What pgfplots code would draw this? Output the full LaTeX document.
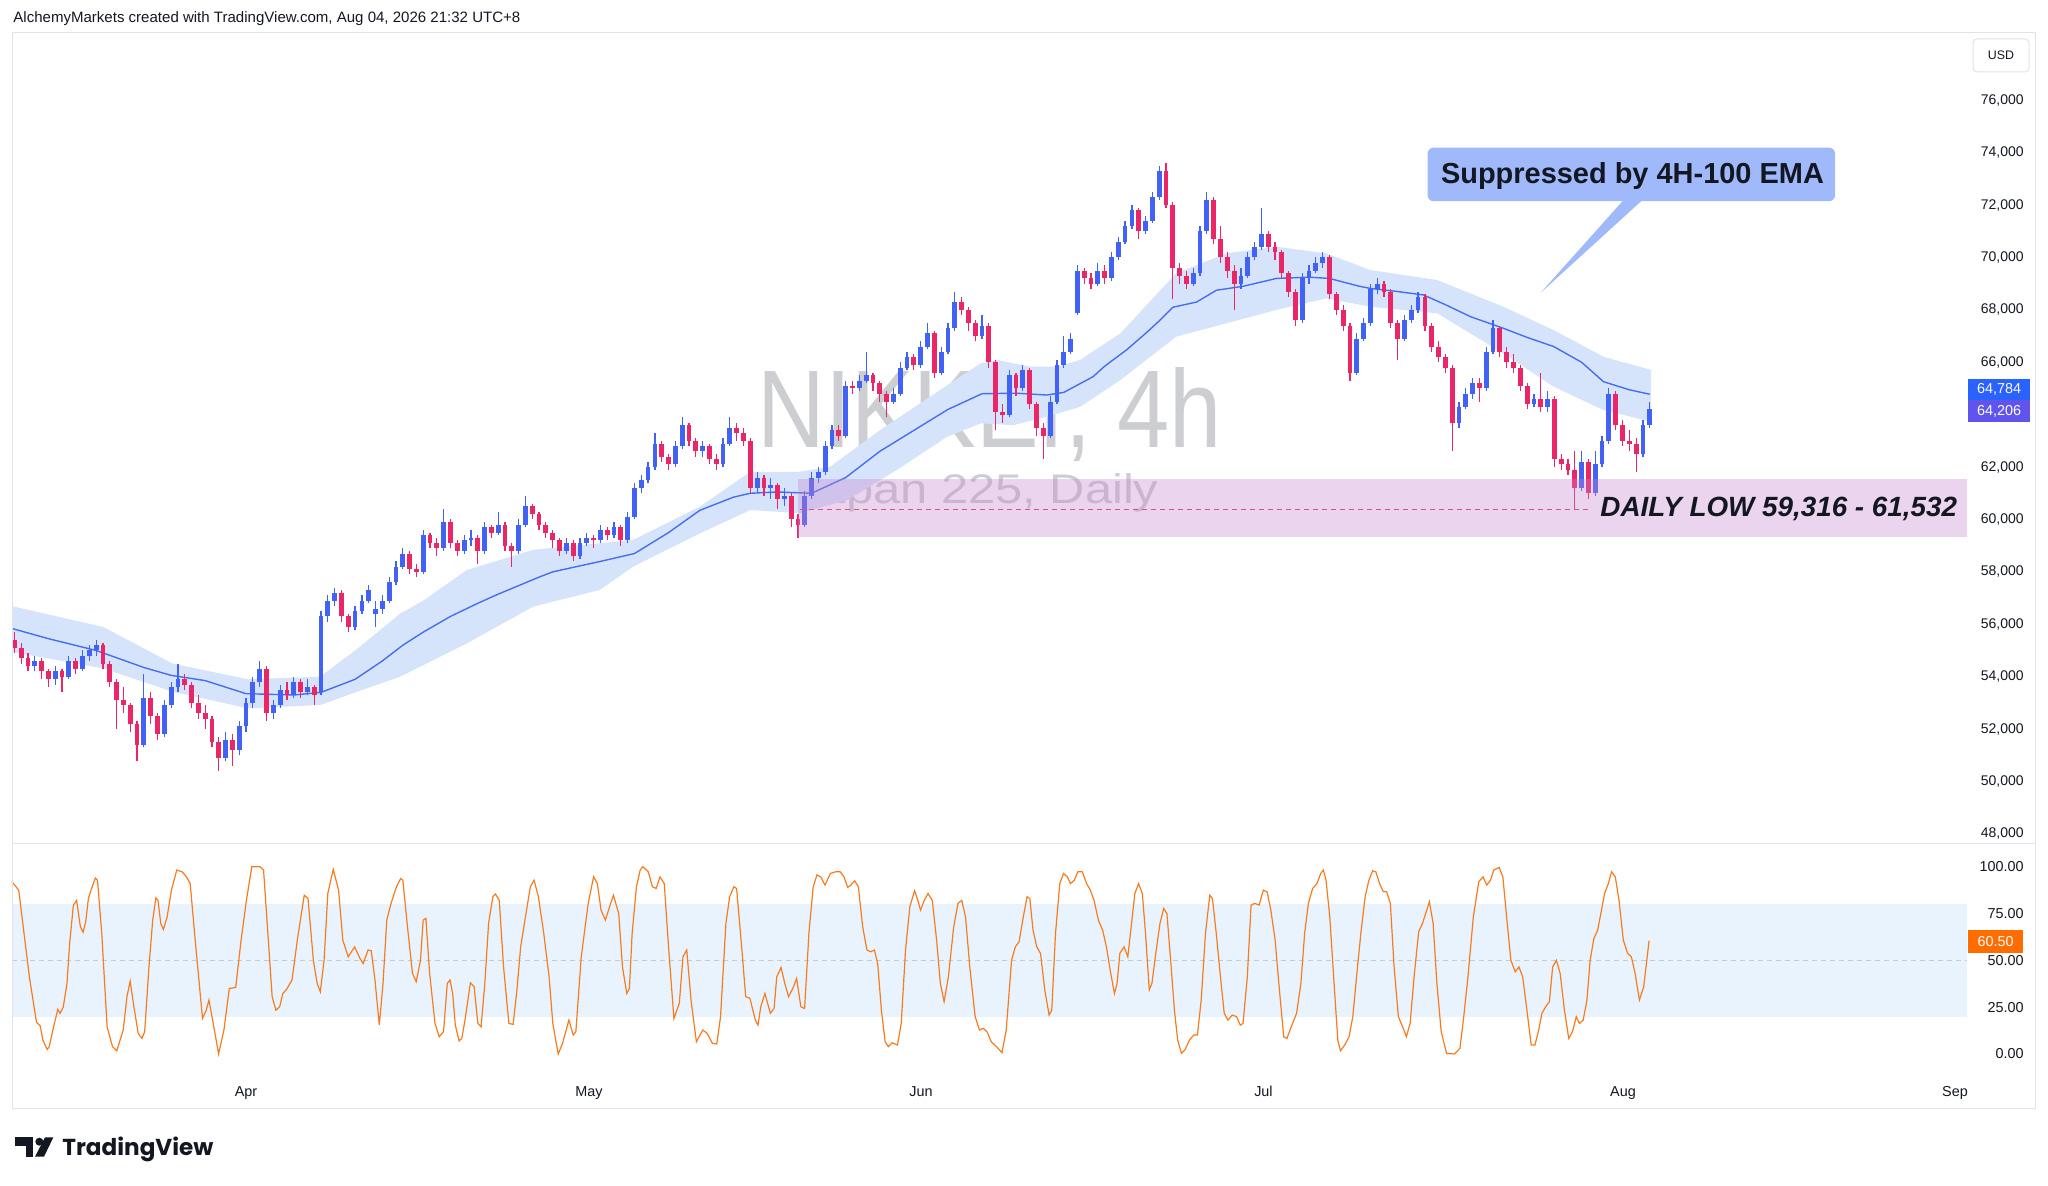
\documentclass[border=0pt]{standalone}
\usepackage{fontspec}
\setmainfont{Liberation Sans}
\newfontfamily\popfont{Poppins}
\usepackage{graphicx}
\usepackage{pgfplots}
\pgfplotsset{compat=1.18}
\usepackage{pgfplotstable}

\definecolor{upc}{RGB}{66,98,245}
\definecolor{dnc}{RGB}{234,38,102}
\definecolor{emac}{RGB}{70,110,240}
\definecolor{bandc}{RGB}{214,228,251}
\definecolor{zonec}{RGB}{198,132,206}
\definecolor{zlinec}{RGB}{222,80,130}
\definecolor{oscc}{RGB}{247,124,32}
\definecolor{oscband}{RGB}{232,243,253}
\definecolor{gridc}{RGB}{200,202,208}
\definecolor{framec}{RGB}{224,227,235}
\definecolor{labelc}{RGB}{19,23,34}
\definecolor{wmc}{RGB}{205,206,210}
\definecolor{callc}{RGB}{160,185,250}
\definecolor{emabox}{RGB}{41,98,255}
\definecolor{pricebox}{RGB}{96,84,236}
\definecolor{oscbox}{RGB}{255,109,0}

\pgfplotsset{candle/.style={only marks, mark=*, mark size=0pt, mark options={draw=none, fill=none}, forget plot,
  error bars/.cd, y dir=plus, y explicit, error mark=none, error bar style={line width=#1}}}

% 4h candles, prices in thousands: rising candles
\pgfplotstableread{
x o h l c
3 54.4 54.8 54.2 54.6
6 53.9 54.4 53.7 54.2
8 54.0 54.8 53.9 54.6
10 54.3 55.0 54.2 54.8
11 54.8 55.2 54.6 55.0
12 55.0 55.4 54.8 55.2
19 51.4 54.1 51.3 53.2
22 51.8 53.1 51.7 52.9
23 52.9 53.8 52.8 53.6
24 53.6 54.5 53.4 53.9
31 50.9 51.9 50.8 51.6
33 51.2 52.3 51.0 52.1
34 52.1 53.2 51.9 53.0
35 53.0 54.0 52.8 53.8
36 53.8 54.6 53.6 54.3
38 52.6 53.1 52.4 52.9
39 52.9 53.7 52.8 53.5
41 53.3 54.0 53.2 53.8
43 53.4 53.9 53.3 53.6
45 53.4 56.5 53.3 56.3
46 56.3 57.1 56.1 56.9
47 56.9 57.4 56.7 57.2
50 55.9 56.7 55.8 56.5
51 56.5 57.1 56.4 56.9
52 56.9 57.5 56.8 57.3
53 56.4 56.9 55.9 56.6
54 56.6 57.1 56.4 56.9
55 56.9 57.8 56.8 57.6
56 57.6 58.4 57.5 58.2
57 58.2 58.9 58.1 58.7
60 58.0 59.6 57.9 59.4
63 58.9 60.4 58.8 59.9
66 58.8 59.4 58.7 59.2
67 59.2 59.6 59.0 59.3
69 58.8 59.9 58.7 59.7
71 59.5 60.3 59.4 59.8
74 58.8 60.0 58.7 59.8
75 59.8 60.9 59.7 60.5
81 58.8 59.3 58.7 59.1
83 58.6 59.3 58.5 59.1
84 59.1 59.5 59.0 59.3
86 59.2 59.8 59.1 59.6
88 59.4 59.9 59.3 59.7
90 59.2 60.3 59.1 60.1
91 60.1 61.4 60.0 61.2
92 61.2 61.7 61.0 61.5
93 61.5 62.2 61.4 62.0
94 62.0 63.3 61.9 62.9
97 62.1 63.0 62.0 62.8
98 62.8 63.9 62.7 63.6
101 62.6 63.0 62.4 62.8
104 62.1 63.1 62.0 62.9
105 62.9 63.9 62.8 63.5
109 61.2 61.8 61.0 61.6
111 61.2 61.6 60.8 61.3
113 60.8 61.2 60.5 60.9
116 59.8 61.1 59.7 60.9
117 60.9 61.8 60.8 61.6
118 61.6 62.0 61.4 61.8
119 61.8 63.0 61.7 62.8
120 62.8 63.6 62.7 63.4
122 63.2 65.3 63.1 65.1
124 65.0 65.5 64.9 65.3
125 65.3 66.4 65.2 65.5
129 64.5 65.0 64.4 64.8
130 64.8 66.0 64.7 65.8
131 65.8 66.4 65.7 66.2
133 65.9 66.8 65.8 66.6
134 66.6 67.5 66.5 67.1
136 65.6 66.6 65.5 66.4
137 66.4 67.5 66.3 67.3
138 67.3 68.7 67.2 68.3
142 67.0 67.8 66.9 67.4
146 64.0 65.7 63.9 65.5
148 65.0 65.9 64.9 65.7
152 63.2 64.7 63.1 64.5
153 64.5 66.1 64.4 65.9
154 65.9 67.0 65.8 66.4
155 66.4 67.1 66.3 66.9
156 67.9 69.7 67.8 69.5
159 69.0 69.8 68.9 69.5
161 69.2 70.2 69.1 70.0
162 70.0 70.8 69.9 70.6
163 70.6 71.4 70.5 71.2
164 71.2 72.0 71.1 71.8
166 71.0 71.6 70.9 71.4
167 71.4 72.5 71.3 72.3
168 72.3 73.5 72.2 73.3
173 69.0 69.6 68.9 69.4
174 69.4 71.2 69.3 71.0
175 71.0 72.5 70.9 72.2
180 69.0 69.6 68.8 69.3
181 69.3 70.2 69.2 70.0
182 70.0 70.6 69.9 70.4
183 70.4 71.9 70.3 70.9
189 67.6 69.4 67.5 69.2
190 69.2 69.7 69.0 69.5
191 69.5 70.0 69.4 69.8
192 69.8 70.2 69.6 70.0
197 65.6 67.1 65.5 66.9
198 66.9 67.7 66.8 67.5
199 67.5 69.0 67.4 68.8
200 68.8 69.2 68.6 69.0
204 66.9 67.8 66.8 67.6
205 67.6 68.2 67.5 68.0
206 68.0 68.7 67.9 68.5
212 63.7 64.5 63.5 64.3
213 64.3 65.0 64.2 64.8
214 64.8 65.4 64.6 65.2
216 65.0 66.6 64.9 66.4
217 66.4 67.6 66.3 67.3
223 64.4 64.8 64.3 64.6
225 64.3 64.9 64.1 64.6
230 61.2 62.6 61.1 62.2
232 61.0 62.6 60.9 62.1
233 62.1 63.2 62.0 63.0
234 63.0 65.0 62.9 64.8
239 62.5 63.8 62.4 63.6
240 63.6 64.5 63.5 64.21
}\upcandles

% falling candles
\pgfplotstableread{
x o h l c
0 55.4 55.7 54.9 55.1
1 55.1 55.3 54.5 54.7
2 54.7 54.9 54.2 54.4
4 54.6 54.7 53.9 54.2
5 54.2 54.3 53.6 53.9
7 54.2 54.3 53.4 54.0
9 54.6 54.7 54.1 54.3
13 55.2 55.3 54.3 54.5
14 54.5 54.6 53.6 53.8
15 53.8 53.9 52.0 53.1
16 53.1 53.6 52.6 52.9
17 52.9 53.0 51.9 52.2
18 52.2 52.3 50.8 51.4
20 53.2 53.4 52.2 52.5
21 52.5 52.6 51.6 51.8
25 53.9 54.1 53.5 53.7
26 53.7 53.8 52.8 53.0
27 53.0 53.3 52.4 52.6
28 52.6 52.9 52.0 52.4
29 52.4 52.5 51.3 51.5
30 51.5 51.7 50.4 50.9
32 51.6 51.8 50.6 51.2
37 54.3 54.4 52.3 52.6
40 53.5 53.8 53.1 53.3
42 53.8 53.9 53.2 53.4
44 53.6 53.7 52.9 53.3
48 57.2 57.3 56.1 56.3
49 56.3 56.4 55.7 55.9
58 58.7 58.8 57.9 58.1
59 58.1 58.3 57.8 58.0
61 59.4 59.5 58.9 59.1
62 59.1 59.3 58.6 58.9
64 59.9 60.0 58.9 59.1
65 59.1 59.2 58.6 58.8
68 59.3 59.4 58.3 58.8
70 59.7 59.8 59.3 59.5
72 59.8 59.9 58.8 59.0
73 59.0 59.1 58.2 58.8
76 60.5 60.6 60.0 60.2
77 60.2 60.3 59.6 59.8
78 59.8 59.9 59.3 59.5
79 59.5 59.6 58.9 59.2
80 59.2 59.3 58.6 58.8
82 59.1 59.2 58.4 58.6
85 59.3 59.4 58.9 59.2
87 59.6 59.7 59.2 59.4
89 59.7 59.8 59.0 59.2
95 62.9 63.0 62.2 62.4
96 62.4 62.5 61.9 62.1
99 63.6 63.7 62.8 63.0
100 63.0 63.1 62.4 62.6
102 62.8 62.9 62.1 62.3
103 62.3 62.5 61.9 62.1
106 63.5 63.7 63.0 63.3
107 63.3 63.5 62.8 63.0
108 63.0 63.1 61.0 61.2
110 61.6 61.7 60.9 61.2
112 61.3 61.4 60.4 60.8
114 60.9 61.0 59.7 60.0
115 60.0 60.2 59.3 59.8
121 63.4 63.6 63.0 63.2
123 65.1 65.3 64.8 65.0
126 65.5 65.6 64.9 65.2
127 65.2 65.3 64.5 64.8
128 64.8 64.9 63.9 64.5
132 66.2 66.3 65.7 65.9
135 67.1 67.2 65.4 65.6
139 68.3 68.5 67.8 68.0
140 68.0 68.1 67.2 67.5
141 67.5 67.6 66.8 67.0
143 67.4 67.5 65.8 66.0
144 66.0 66.1 63.4 64.1
145 64.1 64.4 63.7 64.0
147 65.5 65.6 64.7 65.0
149 65.7 65.8 64.2 64.4
150 64.4 64.5 63.2 63.5
151 63.5 63.7 62.3 63.2
157 69.5 69.6 69.0 69.2
158 69.2 69.4 68.8 69.0
160 69.5 69.7 69.0 69.2
165 71.8 71.9 70.7 71.0
169 73.3 73.6 71.9 72.0
170 72.0 72.1 68.4 69.6
171 69.6 69.8 69.0 69.3
172 69.3 69.5 68.8 69.0
176 72.2 72.3 70.5 70.7
177 70.7 71.2 69.8 70.0
178 70.0 70.2 69.2 69.5
179 69.5 69.7 68.0 69.0
184 70.9 71.0 70.2 70.4
185 70.4 70.6 69.9 70.2
186 70.2 70.3 69.2 69.4
187 69.4 69.5 68.5 68.7
188 68.7 68.8 67.4 67.6
193 70.0 70.1 68.4 68.6
194 68.6 68.7 67.8 68.0
195 68.0 68.2 67.2 67.4
196 67.4 67.5 65.3 65.6
201 69.0 69.1 68.5 68.7
202 68.7 68.8 67.3 67.5
203 67.5 67.6 66.1 66.9
207 68.5 68.6 67.2 67.4
208 67.4 67.5 66.4 66.6
209 66.6 66.8 66.0 66.2
210 66.2 66.3 65.6 65.8
211 65.8 65.9 62.6 63.7
215 65.2 65.4 64.5 65.0
218 67.3 67.4 66.2 66.4
219 66.4 66.6 65.8 66.0
220 66.0 66.3 65.6 65.8
221 65.8 65.9 64.9 65.1
222 65.1 65.2 64.2 64.4
224 64.6 65.6 64.1 64.3
226 64.6 64.7 62.0 62.3
227 62.3 62.5 61.9 62.1
228 62.1 62.3 61.7 61.9
229 61.9 62.6 60.4 61.2
231 62.2 62.3 60.8 61.0
235 64.8 64.9 63.4 63.6
236 63.6 63.8 62.8 63.0
237 63.0 63.4 62.6 62.9
238 62.9 63.1 61.8 62.5
}\dncandles

\begin{document}
\begin{tikzpicture}[x=1pt,y=1pt]
\useasboundingbox (0,0) rectangle (1024,592.5);
\fill[white] (0,0) rectangle (1024,592.5);

% watermarks
\node[anchor=base west, inner sep=0pt, text=wmc] at (378.5,368.5) {\resizebox{232pt}{40pt}{NIKKEI, 4h}};
\node[anchor=base west, inner sep=0pt, text=wmc] at (397,340.8) {\resizebox{182pt}{15pt}{Japan 225, Daily}};

% ---------------- price pane ----------------
\begin{axis}[
  at={(6pt,171pt)}, anchor=south west, scale only axis,
  width=977.5pt, height=405pt,
  xmin=-0.35, xmax=286.56, ymin=47.651, ymax=78.569,
  axis line style={draw=none}, tick style={draw=none},
  xtick=\empty,
  ytick={48,50,52,54,56,58,60,62,66,68,70,72,74,76},
  yticklabels={{48,000},{50,000},{52,000},{54,000},{56,000},{58,000},{60,000},{62,000},{66,000},{68,000},{70,000},{72,000},{74,000},{76,000}},
  yticklabel pos=right,
  yticklabel style={anchor=east, inner sep=0pt, xshift=28.5pt, font=\fontsize{7}{8}\selectfont, text=labelc},
]
% EMA envelope
\addplot[fill=bandc, draw=none, forget plot] coordinates {
(-0.5,56.7) (13,55.9) (23.2,54.5) (34.3,53.9) (44.9,54.0) (50,55.0) (56.6,56.4) (60,56.9) (66.4,58.07) (76.1,58.84) (90.8,59.22) (100.6,60.49) (108,61.82) (115.3,61.82) (119.7,62.01) (127.1,63.42) (134.4,64.69) (141.8,65.96) (144.2,66.09) (149.1,65.83) (153,65.83) (156.4,66.09) (162.3,67.1) (170.5,69.4) (177.9,70.16) (185.2,70.41) (192.5,70.16) (199,69.52) (208.8,69.14) (218.5,68.12) (225.9,67.23) (233.2,66.21) (240.2,65.71)
(240.2,63.73) (233.2,64.18) (225.9,65.07) (218.5,66.34) (208.8,67.87) (199,68.12) (192.5,68.44) (185.2,68.0) (177.9,67.49) (170.5,66.98) (162.3,65.32) (156.4,64.3) (151.5,63.92) (146.6,63.6) (141.8,63.67) (136.9,63.16) (129.5,61.89) (122.2,60.74) (115.3,60.24) (108,60.36) (100.6,59.47) (90.8,58.2) (85.9,57.31) (76.1,56.67) (66.4,55.27) (56.6,54.0) (50,53.4) (44.9,52.92) (34.3,52.79) (23.2,53.43) (13,54.32) (-0.5,54.95)};
% 4H-100 EMA
\addplot[emac, line width=0.7pt, mark=none, forget plot] coordinates {
(-0.5,55.85) (5,55.45) (12,55.0) (19,54.35) (23,54.05) (28,53.85) (34,53.35) (41,53.3) (45,53.4) (50,53.9) (54,54.6) (57,55.2) (60,55.7) (64,56.3) (68,56.8) (71,57.15) (77,57.8) (79,58.0) (86,58.4) (91,58.7) (96,59.5) (100.6,60.35) (105.5,60.85) (108,61.0) (112,61.05) (117,61.0) (122,61.6) (127,62.6) (132,63.4) (137,64.2) (142,64.8) (147,64.82) (151.5,64.75) (154,64.85) (156.5,65.2) (158.3,65.45) (160,65.85) (163.2,66.47) (166,67.1) (168.1,67.6) (170,68.1) (173.5,68.3) (176.4,68.75) (180.3,68.9) (185.2,69.2) (190,69.25) (193,69.2) (197.4,68.9) (199,68.82) (203,68.7) (206.8,68.57) (210,68.2) (213.7,67.74) (218.5,67.3) (222,66.95) (225.9,66.6) (230,66.0) (233.2,65.26) (237,64.95) (240,64.78)};
% wicks
\addplot[color=upc, candle=0.6pt] table[x=x, y=l, y error plus expr=\thisrow{h}-\thisrow{l}] {\upcandles};
\addplot[color=dnc, candle=0.6pt] table[x=x, y=l, y error plus expr=\thisrow{h}-\thisrow{l}] {\dncandles};
% bodies
\addplot[color=upc, candle=2.4pt] table[x=x, y=o, y error plus expr=\thisrow{c}-\thisrow{o}] {\upcandles};
\addplot[color=dnc, candle=2.4pt] table[x=x, y=c, y error plus expr=\thisrow{o}-\thisrow{c}] {\dncandles};
% daily low zone
\fill[zonec, fill opacity=0.35] (axis cs:115,59.316) rectangle (axis cs:286.56,61.532);
\draw[zlinec, line width=0.5pt, dash pattern=on 2.5pt off 2pt] (axis cs:115.3,60.39) -- (axis cs:231,60.39);
\end{axis}

% ---------------- oscillator pane ----------------
\begin{axis}[
  at={(6pt,57pt)}, anchor=south west, scale only axis,
  width=977.5pt, height=114pt,
  xmin=-0.35, xmax=286.56, ymin=-9.1, ymax=112.66,
  axis line style={draw=none}, tick style={draw=none},
  xtick={33.99,84.33,133.05,183.31,236.07,284.8},
  xticklabels={Apr,May,Jun,Jul,Aug,Sep},
  xticklabel style={anchor=base, inner sep=0pt, yshift=-12.75pt, font=\fontsize{7.2}{8}\selectfont, text=labelc},
  ytick={0,25,50,75,100},
  yticklabels={0.00,25.00,50.00,75.00,100.00},
  yticklabel pos=right,
  yticklabel style={anchor=east, inner sep=0pt, xshift=28.5pt, font=\fontsize{7.2}{8}\selectfont, text=labelc},
  clip=false,
]
\fill[oscband] (axis cs:-0.35,20) rectangle (axis cs:286.56,80);
\draw[gridc, line width=0.5pt, dash pattern=on 2.5pt off 2pt] (axis cs:-0.35,50) -- (axis cs:286.56,50);
\addplot[oscc, line width=0.6pt, mark=none] coordinates {
(-0.38,92) (0.64,87.5) (1.43,64) (2.21,41) (3.24,17) (3.79,15) (4.18,7.4) (4.81,2.4) (5.12,3.9) (5.75,14.5) (6.38,23.8) (6.70,21.7) (7.17,25) (7.72,37.7) (8.11,59) (8.66,79.5) (9.13,82) (9.68,68) (10.08,65) (10.47,70.6) (10.86,83) (11.25,87.5) (11.88,94) (12.20,92.8) (12.83,64) (13.61,14.5) (14.40,3.9) (15.03,1.7) (15.97,12.8) (16.52,30.6) (16.99,38.9) (17.54,25.2) (18.17,11) (18.72,8.3) (19.12,11.9) (19.75,46.5) (20.30,71.5) (20.77,83.4) (21.08,82) (21.48,69.7) (21.87,66.5) (22.42,73.3) (23.05,87.5) (23.83,98.2) (24.62,97.3) (25.25,94.6) (25.80,91) (26.58,59) (27.61,19) (28.16,23.4) (28.55,28.8) (29.18,16.3) (29.97,0) (30.75,12.8) (31.54,35) (32.48,35.5) (33.27,60.8) (34.05,82) (34.84,100) (36.02,100) (36.57,98.2) (37.20,64.4) (37.83,30.6) (38.38,23.4) (38.93,25.2) (39.40,32.3) (39.95,34.5) (40.74,39.5) (41.52,60.8) (42.54,84.8) (43.09,83) (43.88,50) (44.43,37.7) (44.90,33.2) (45.45,50) (46.00,85.7) (46.79,98.6) (47.58,87.5) (48.20,60.8) (48.99,51.9) (49.93,57.2) (50.72,51) (51.19,48.3) (51.90,55.5) (52.37,55.1) (52.92,39.5) (53.55,15.4) (54.10,37.7) (54.65,71.5) (55.28,80.4) (56.07,89.3) (56.69,93.7) (57.01,92.8) (57.64,69.7) (58.42,43) (58.97,38.6) (59.60,50) (59.99,71.5) (60.39,72.4) (60.94,43) (61.73,16.3) (62.35,9.2) (62.98,11.9) (63.53,37.7) (63.93,39.5) (64.32,32.3) (64.71,15.4) (65.26,7) (65.66,8.3) (66.13,18.1) (66.92,38) (67.47,35.9) (68.02,16.3) (68.49,14.5) (69.04,37.7) (69.59,69.7) (70.22,84) (70.61,85.4) (71.16,82) (71.79,46.5) (72.57,16.3) (73.20,15.8) (73.75,34.2) (74.30,57.2) (74.93,71.5) (75.72,89.3) (76.27,92.8) (76.90,84) (77.69,64.4) (78.47,41.2) (79.02,16.3) (79.81,0) (80.44,5.6) (81.38,18.1) (82.01,10.1) (82.40,11.9) (83.19,51.9) (84.21,80.4) (85.00,94.6) (85.55,91) (86.10,76.8) (86.73,71.5) (87.35,78.6) (87.91,84.8) (88.69,75) (89.24,46.5) (89.87,32.3) (90.26,35) (90.66,64.4) (91.29,89.3) (91.84,98.2) (92.23,100) (93.02,97.3) (93.64,89.3) (94.19,88.4) (94.74,94.6) (95.37,91) (96.00,57.2) (96.79,19) (97.58,27) (98.12,51.9) (98.67,55.5) (99.30,28.8) (100.09,6.5) (101.03,12.8) (101.66,11) (102.45,5.6) (103.08,5.3) (103.63,19.9) (104.42,69.7) (104.97,84) (105.59,89.3) (105.99,88.4) (106.77,55.5) (107.32,30.6) (107.95,29.7) (108.74,18.1) (109.13,15.4) (109.53,25.2) (110.15,32.3) (110.94,21.7) (111.49,24.3) (111.88,41.2) (112.51,46.2) (113.06,37.7) (113.61,30.6) (114.24,35) (114.79,40.3) (115.42,25.2) (115.97,24.3) (116.60,64.4) (117.23,89.3) (117.78,95.6) (118.33,94.6) (118.96,90.2) (119.75,96.4) (120.53,97.3)
(121.19,97.3) (121.74,94.6) (122.29,89) (122.76,90.2) (123.31,92.5) (123.86,89.3) (124.49,67.9) (125.12,55.5) (125.67,54.6) (126.22,55.5) (126.69,48.3) (127.24,23.4) (127.79,6.5) (128.26,3.9) (128.81,6) (129.60,4.8) (130.15,16.3) (130.78,55.5) (131.41,78.6) (132.12,87.2) (132.59,82) (132.98,76.8) (133.53,82) (134.08,85.7) (134.71,82) (135.34,60.8) (135.89,37.7) (136.44,27.9) (137.07,41.2) (137.85,67.9) (138.48,80.4) (139.03,82) (139.58,73.3) (140.21,46.5) (141.00,19.9) (141.63,12.8) (142.18,13.7) (142.73,11.9) (143.36,6.5) (144.14,3.9) (144.93,0.7) (145.56,12.8) (146.34,50) (146.89,57.2) (147.44,59.9) (148.07,73.3) (148.62,84) (149.02,83) (149.49,66.1) (150.04,57.2) (150.59,53.7) (151.22,34.1) (151.85,20.8) (152.24,23.4) (152.79,64.4) (153.42,91) (153.97,96.4) (154.52,94.6) (154.99,91) (155.54,92.8) (156.09,97.3) (156.72,97.3) (157.35,91) (157.90,87.5) (158.45,82) (159.08,71.5) (159.71,66.1) (160.26,57.2) (160.81,44.8) (161.44,32.3) (161.83,37.7) (162.23,53.7) (162.85,57.2) (163.40,51.9) (163.95,69.7) (164.43,85.7) (164.98,91) (165.53,85.7) (166.00,64.4) (166.55,34.2) (166.94,37.7) (167.57,55.5) (168.12,69.7) (168.67,77.7) (169.14,75) (169.69,50) (170.24,23.4) (170.72,7.4) (171.27,0.3) (171.82,2.4) (172.44,7.4) (173.07,10.1) (173.62,10.1) (174.17,28.8) (174.80,64.4) (175.43,84.8) (175.82,83) (176.38,64.4) (177.00,41.2) (177.55,21.7) (178.10,18.1) (178.73,20.8) (179.36,19.9) (179.91,15.4) (180.31,16.3) (180.94,41.2) (181.49,79.5) (182.04,80.4) (182.67,79.5) (183.29,87.5) (183.84,86.6) (184.39,76.8) (185.02,60.8) (185.65,34.2) (186.28,9.2) (186.75,8.3) (187.38,14.5) (188.17,21.7) (188.80,37.7) (189.35,64.4) (189.90,80.4) (190.53,88.4) (191.16,91) (191.71,96.4) (192.10,98.2) (192.49,92.8) (193.04,73.3) (193.67,37.7) (194.22,7.4) (194.61,1.7) (195.24,4.8) (195.87,9.2) (196.42,19.9) (196.97,41.2) (197.60,64.4) (198.23,84) (198.78,92.8) (199.33,97.8) (199.80,97.3) (200.35,91) (200.90,86.6) (201.38,86.6) (201.93,80.4) (202.48,46.5) (203.11,19.9) (203.73,14.5) (204.28,9.2) (204.83,16.3) (205.46,43) (206.09,65.3) (206.64,69.7) (207.19,75.9) (207.66,81.3) (208.21,69.7) (208.76,37.7) (209.39,11.9) (210.18,0.3) (211.36,0) (212.14,3) (212.70,19.9) (213.32,41.2) (214.11,73.3) (214.90,91.9) (215.53,94.6) (216.08,90.2) (216.63,92.8) (217.10,98.2) (217.89,99.6) (218.44,94.6) (218.99,73.3) (219.62,50) (220.25,43.9) (220.80,46.5) (221.35,41.2) (221.97,23.4) (222.60,4.8) (223.15,4.8) (223.70,12.8) (224.17,21.7) (224.72,25.2) (225.27,27.9) (225.75,46.5) (226.30,50) (226.85,43) (227.48,23.4) (228.11,8.3) (228.66,11.9) (229.21,19.9) (229.68,16.3) (230.23,18.1) (230.78,28.8) (231.25,50) (231.80,61.7) (232.35,66.1) (232.82,75) (233.37,85.7) (233.92,91) (234.39,97.3) (234.94,94.6) (235.49,82) (236.12,60.8) (236.75,53.7) (237.30,51.9) (237.85,43) (238.48,28.8) (239.11,35.9) (239.90,60.5)};
\end{axis}

% ---------------- frame and overlays ----------------
\draw[framec, line width=0.5pt] (6,38.5) rectangle (1017.5,576);
\draw[framec, line width=0.5pt] (6,171) -- (1017.5,171);

% header
\node[anchor=base west, inner sep=0pt, text=labelc] at (6.5,581) {\resizebox{253.5pt}{!}{AlchemyMarkets created with TradingView.com, Aug 04, 2026 21:32 UTC+8}};

% USD box
\draw[framec, line width=0.5pt, rounded corners=2pt] (986.5,556.5) rectangle (1014.5,573);
\node[text=labelc, font=\fontsize{6.2}{7}\selectfont] at (1000.5,564.75) {USD};

% last value labels
\fill[emabox] (984,392.5) rectangle (1015,403);
\node[text=white, font=\fontsize{7.2}{8}\selectfont] at (999.5,397.75) {64,784};
\fill[pricebox] (984,381.5) rectangle (1015,392.5);
\node[text=white, font=\fontsize{7.2}{8}\selectfont] at (999.5,387) {64,206};
\fill[oscbox] (984,116) rectangle (1011.5,127.5);
\node[text=white, font=\fontsize{7.2}{8}\selectfont] at (997.75,121.75) {60.50};

% callout
\fill[callc, rounded corners=3pt] (713.8,491.9) rectangle (917.5,518.7);
\fill[callc] (811.5,492.2) -- (820.9,492.2) -- (770.2,446) -- cycle;
\node[anchor=base west, inner sep=0pt, text=labelc] at (720.3,500.85) {\resizebox{191.5pt}{!}{\bfseries Suppressed by 4H-100 EMA}};

% zone label
\node[anchor=base west, inner sep=0pt, text=labelc] at (800,334.2) {\resizebox{178.3pt}{!}{\bfseries\itshape DAILY LOW 59,316 - 61,532}};

% TradingView logo
\fill[labelc] (7.5,19.5) rectangle (16.67,23.85);
\fill[labelc] (13,14.15) rectangle (16.67,23.85);
\fill[labelc] (19.67,21.65) circle (2);
\fill[labelc] (22.5,23.85) -- (26.67,23.85) -- (22,14.15) -- (17.5,14.15) -- cycle;
\node[anchor=base west, inner sep=0pt, text=labelc] at (31,15) {\resizebox{75.5pt}{!}{\popfont\bfseries TradingView}};
\end{tikzpicture}
\end{document}
